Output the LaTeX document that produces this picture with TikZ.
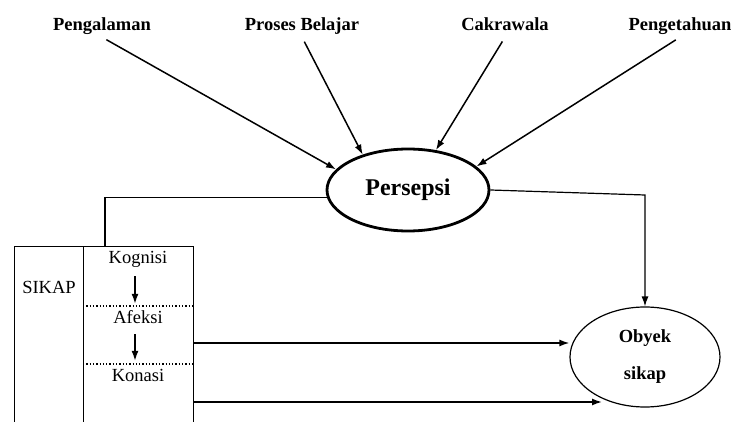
\documentclass[tikz,border=0pt]{standalone}
\usepackage{fontspec}
\setmainfont{Liberation Serif}
\usetikzlibrary{positioning,shapes.geometric,arrows.meta}

\begin{document}
\begin{tikzpicture}[x=1pt,y=-1pt,
    faktor/.style={font=\fontsize{18.5}{20}\selectfont\bfseries, inner sep=2pt, text height=12pt, text depth=4pt},
    ranah/.style={font=\fontsize{18.5}{20}\selectfont, inner sep=2pt, text height=12pt, text depth=4pt},
    panah/.style={-{Latex[length=10pt,width=7pt]}, line width=1.5pt},
    garis/.style={line width=1.2pt}]
  \useasboundingbox (0,0) rectangle (731,422);

  \node[faktor] (pengalaman) at (102,27) {Pengalaman};
  \node[faktor] (proses) at (302,27) {Proses Belajar};
  \node[faktor] (cakrawala) at (505,27) {Cakrawala};
  \node[faktor] (pengetahuan) at (680,27) {Pengetahuan};

  \node[draw, ellipse, line width=2.8pt, minimum width=162pt, minimum height=82pt,
        font=\fontsize{24}{26}\selectfont\bfseries] (persepsi) at (408,190) {Persepsi};
  \node[draw, ellipse, garis, minimum width=150pt, minimum height=100pt, align=center,
        font=\fontsize{18.5}{37}\selectfont\bfseries] (obyek) at (645,357) {Obyek\\sikap};

  \node[draw, garis, anchor=north west, minimum width=69pt, minimum height=190pt] (kolom) at (14,246) {};
  \node[draw, garis, anchor=north west, minimum width=110pt, minimum height=190pt] (ranahbox) at (83,246) {};
  \node[ranah] (sikap) at (49,289) {SIKAP};
  \node[ranah] (kognisi) at (138,260) {Kognisi};
  \node[ranah] (afeksi) at (138,319) {Afeksi};
  \node[ranah] (konasi) at (138,377) {Konasi};

  \coordinate (garis1) at (83,306);
  \coordinate (garis2) at (83,364);
  \coordinate (belok) at (645,195);
  \coordinate (ujung) at (602,402);

  \draw[panah, shorten <=5pt] (pengalaman.south) -- (persepsi.164);
  \draw[panah, shorten <=5pt] (proses.south) -- (persepsi.142);
  \draw[panah, shorten <=5pt] (cakrawala.south) -- (persepsi.55);
  \draw[panah, shorten <=5pt] (pengetahuan.south) -- (persepsi.19);

  \draw[dotted, line width=1.3pt] (garis1) -- (garis1 -| ranahbox.east);
  \draw[dotted, line width=1.3pt] (garis2) -- (garis2 -| ranahbox.east);
  \draw[panah, shorten <=6pt, shorten >=5pt] ([xshift=-3pt]kognisi.south) -- ([xshift=-3pt]afeksi.north);
  \draw[panah, shorten <=5pt, shorten >=6pt] ([xshift=-3pt]afeksi.south) -- ([xshift=-3pt]konasi.north);

  \draw[garis] (persepsi.185) -| ([xshift=22pt]ranahbox.north west);
  \draw[panah, line width=1.2pt] (persepsi.east) -- (belok) -- (obyek.north);
  \draw[panah] (ranahbox.east |- 0,343) -- (obyek.west |- 0,343);
  \draw[panah] (ranahbox.east |- ujung) -- (ujung);
\end{tikzpicture}
\end{document}
